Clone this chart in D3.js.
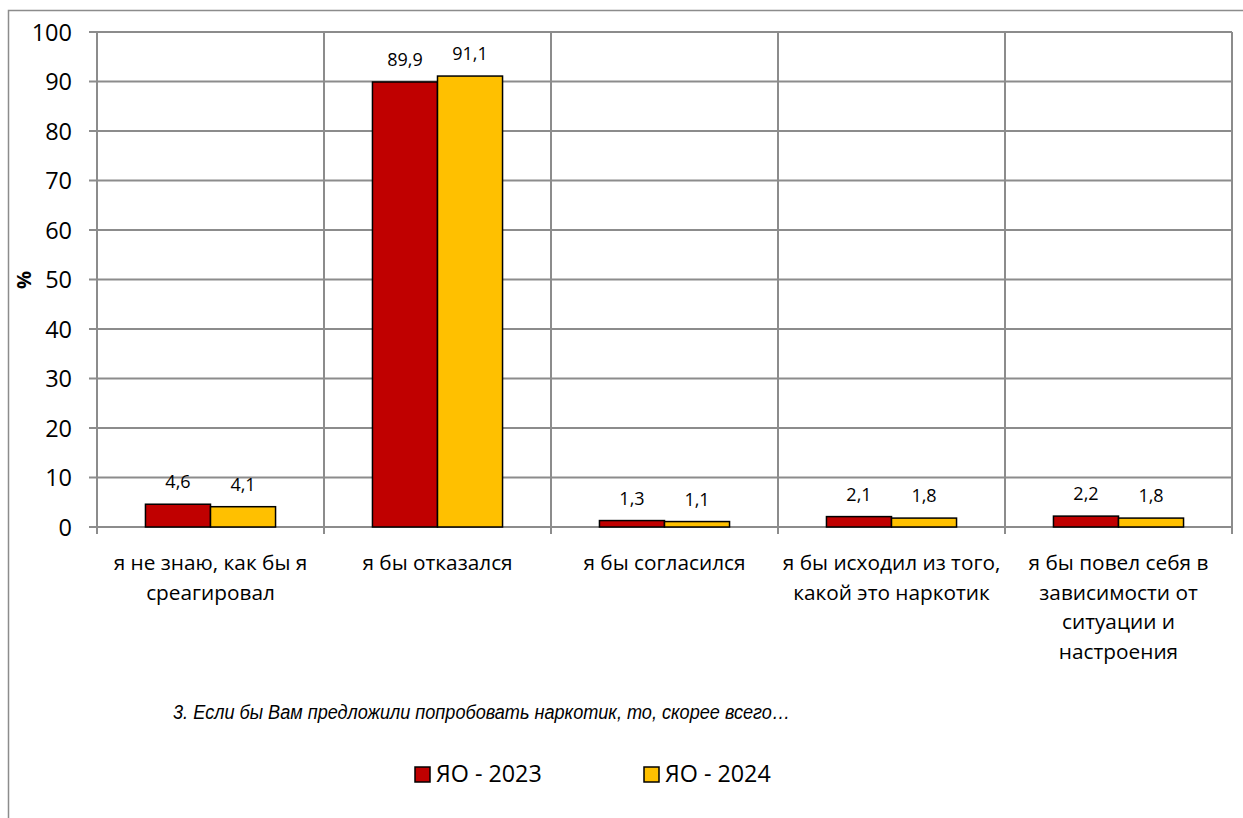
<!DOCTYPE html>
<html><head><meta charset="utf-8">
<script src="https://cdn.jsdelivr.net/npm/d3@7"></script>
<style>body{margin:0;background:#fff}svg{display:block}</style>
</head><body>
<script>
const categories = [
  ["я не знаю, как бы я", "среагировал"],
  ["я бы отказался"],
  ["я бы согласился"],
  ["я бы исходил из того,", "какой это наркотик"],
  ["я бы повел себя в", "зависимости от", "ситуации и", "настроения"]
];
const seriesNames = ["ЯО - 2023", "ЯО - 2024"];
const values2023 = [4.6, 89.9, 1.3, 2.1, 2.2];
const values2024 = [4.1, 91.1, 1.1, 1.8, 1.8];
const yTicks = [0,10,20,30,40,50,60,70,80,90,100];
const colors = ["#C00000", "#FFC000"];
const title = "3. Если бы Вам предложили попробовать наркотик, то, скорее всего…";

const W = 1243, H = 818;
const svg = d3.select("body").append("svg").attr("width", W).attr("height", H);
const font = "'Open Sans', sans-serif";

svg.append("path").attr("d", `M8.5,${H+2} V10.5 H${W+2}`)
  .attr("fill","none").attr("stroke","#8c8c8c").attr("stroke-width",1.5);

const L = 97, R = 1232, T = 32, B = 527;
const x = d3.scaleBand().domain(d3.range(categories.length)).range([L, R]).paddingInner(0).paddingOuter(0);
const y = d3.scaleLinear().domain([0, 100]).range([B, T]);
const x1 = d3.scaleBand().domain([0,1]).range([0, x.bandwidth()]).paddingInner(0).paddingOuter(0.745);

const g = svg.append("g");
g.selectAll("line.h").data(yTicks).join("line")
  .attr("x1", L-8).attr("x2", R).attr("y1", d=>y(d)).attr("y2", d=>y(d))
  .attr("stroke","#8c8c8c").attr("stroke-width",2);
const bounds = d3.range(categories.length+1).map(i => i < categories.length ? x(i) : x(i-1)+x.bandwidth());
g.selectAll("line.v").data(bounds).join("line")
  .attr("x1", d=>d).attr("x2", d=>d).attr("y1", T).attr("y2", B+7)
  .attr("stroke","#8c8c8c").attr("stroke-width",2);

g.selectAll("text.yt").data(yTicks).join("text")
  .attr("x", L-25).attr("y", d=>y(d)+8.5)
  .attr("text-anchor","end").attr("font-family",font).attr("font-size",23.5).attr("fill","#000")
  .text(d=>d);

svg.append("text").attr("transform",`translate(31,280) rotate(-90)`)
  .attr("text-anchor","middle").attr("font-family",font).attr("font-weight","bold")
  .attr("font-size",20).text("%");

const series = [values2023, values2024];
series.forEach((vals, si) => {
  const sg = g.append("g");
  sg.selectAll("rect").data(vals).join("rect")
    .attr("x", (d,i)=>x(i)+x1(si)).attr("width", x1.bandwidth())
    .attr("y", d=>y(d)).attr("height", d=>B - y(d))
    .attr("fill", colors[si]).attr("stroke","#000").attr("stroke-width",1.5);
  sg.selectAll("text").data(vals).join("text")
    .attr("x", (d,i)=>x(i)+x1(si)+x1.bandwidth()/2).attr("y", d=>y(d)-16)
    .attr("text-anchor","middle").attr("font-family",font).attr("font-size",18)
    .text(d=>String(d.toFixed(1)).replace(".",","));
});

categories.forEach((lines, i) => {
  const t = svg.append("text").attr("text-anchor","middle")
    .attr("font-family",font).attr("font-size",20.8).attr("fill","#000");
  lines.forEach((ln, k) => {
    t.append("tspan").attr("x", x(i)+x.bandwidth()/2).attr("y", 570 + k*29.5).text(ln);
  });
});

svg.append("text").attr("x", 173).attr("y", 719)
  .attr("textLength", 617).attr("lengthAdjust","spacingAndGlyphs")
  .attr("font-family","'Liberation Sans', Arial, sans-serif").attr("font-style","italic")
  .attr("font-size",19.5).text(title);

const legX = [415, 644];
seriesNames.forEach((n, i) => {
  svg.append("rect").attr("x", legX[i]).attr("y", 767).attr("width", 15).attr("height", 15)
    .attr("fill", colors[i]).attr("stroke","#000").attr("stroke-width",1.5);
  svg.append("text").attr("x", legX[i]+21).attr("y", 782)
    .attr("font-family",font).attr("font-size",23.3).text(n);
});
</script>
</body></html>
